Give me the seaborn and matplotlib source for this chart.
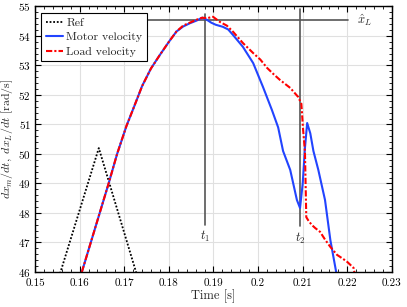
import numpy as np
import pandas as pd
import seaborn as sns
import matplotlib
matplotlib.use("Agg")
import matplotlib.pyplot as plt
from matplotlib.ticker import MultipleLocator

# reference (triangle)
ref_t = [0.150, 0.1643, 0.178]
ref_v = [43.2, 50.2, 43.3]

# motor velocity
motor_t = [0.1580, 0.1605, 0.1625, 0.1645, 0.1665, 0.1684, 0.1705, 0.1722, 0.1740, 0.1760,
           0.1780, 0.1800, 0.1817, 0.1832, 0.1847, 0.1862, 0.1875, 0.1885, 0.1895, 0.1905,
           0.1921, 0.1933, 0.1944, 0.1966, 0.1989, 0.2011, 0.2031, 0.2045, 0.2056, 0.2072,
           0.2087, 0.2094, 0.2100, 0.2105, 0.2110, 0.2117, 0.2124, 0.2135, 0.2150, 0.2162,
           0.2175, 0.2190]
motor_v = [44.7, 46.0, 47.0, 48.0, 49.0, 50.0, 50.95, 51.6, 52.3, 52.9,
           53.36, 53.8, 54.15, 54.32, 54.43, 54.52, 54.62, 54.55, 54.45, 54.38,
           54.31, 54.22, 54.03, 53.63, 53.08, 52.27, 51.49, 50.9, 50.1, 49.46,
           48.44, 48.17, 49.0, 50.2, 51.05, 50.7, 50.1, 49.46, 48.44, 47.08,
           46.0, 45.2]

# load velocity
load_t = [0.1580, 0.1605, 0.1625, 0.1645, 0.1665, 0.1684, 0.1705, 0.1722, 0.1740, 0.1760,
          0.1780, 0.1800, 0.1817, 0.1832, 0.1847, 0.1862, 0.1875, 0.1885, 0.1899, 0.1915,
          0.1930, 0.1944, 0.1966, 0.1989, 0.2005, 0.2020, 0.2035, 0.2049, 0.2072, 0.2090,
          0.2097, 0.2101, 0.2105, 0.2108, 0.2112, 0.2120, 0.2128, 0.2139, 0.2150, 0.2162,
          0.2177, 0.2190, 0.2200, 0.2214, 0.2217]
load_v = [44.7, 46.0, 47.0, 48.0, 49.0, 50.0, 50.95, 51.6, 52.3, 52.9,
          53.36, 53.8, 54.15, 54.35, 54.45, 54.55, 54.62, 54.6, 54.65, 54.47,
          54.35, 54.14, 53.76, 53.42, 53.2, 52.92, 52.7, 52.51, 52.24, 51.93,
          51.7, 50.8, 50.1, 47.86, 47.76, 47.6, 47.49, 47.36, 47.1, 46.85,
          46.58, 46.45, 46.34, 46.14, 45.9]

t1, t2 = 0.1881, 0.2094
xhat_L = 54.54

plt.rcParams["figure.dpi"] = 100
sns.set_theme(style="whitegrid")
plt.rcParams["font.family"] = "serif"
plt.rcParams["font.serif"] = ["cmr10", "DejaVu Serif"]
plt.rcParams["mathtext.fontset"] = "cm"
plt.rcParams["axes.formatter.use_mathtext"] = True

fig = plt.figure(figsize=(4.07, 3.07))
ax = fig.add_axes([0.086, 0.114, 0.877, 0.865])

sns.lineplot(x=ref_t, y=ref_v, ax=ax, color="black", linestyle=(0, (1, 1)), lw=1.3, label="Ref", sort=False)
sns.lineplot(x=motor_t, y=motor_v, ax=ax, color="#2244ff", lw=1.5, label="Motor velocity", sort=False)
sns.lineplot(x=load_t, y=load_v, ax=ax, color="#ff0000", linestyle=(0, (3, 1, 1, 1)), lw=1.5,
             label="Load velocity", sort=False)

# annotation lines
ax.plot([0.1751, 0.2202], [xhat_L, xhat_L], color="#555555", lw=1.2, zorder=1.5)
ax.plot([t1, t1], [54.75, 47.6], color="#555555", lw=1.2, zorder=1.5)
ax.plot([t2, t2], [54.9, 47.55], color="#555555", lw=1.2, zorder=1.5)
ax.text(0.2222, xhat_L, r"$\hat{x}_L$", fontsize=9, va="center", ha="left")
ax.text(t1, 47.45, r"$t_1$", fontsize=9, va="top", ha="center")
ax.text(t2, 47.4, r"$t_2$", fontsize=9, va="top", ha="center")

ax.set_xlim(0.15, 0.23)
ax.set_ylim(46, 55)
ax.xaxis.set_major_locator(MultipleLocator(0.01))
ax.xaxis.set_minor_locator(MultipleLocator(0.002))
ax.yaxis.set_major_locator(MultipleLocator(1))
ax.yaxis.set_minor_locator(MultipleLocator(0.2))
ax.set_xticks([0.15, 0.16, 0.17, 0.18, 0.19, 0.2, 0.21, 0.22, 0.23])
ax.set_xticklabels(["0.15", "0.16", "0.17", "0.18", "0.19", "0.2", "0.21", "0.22", "0.23"])
ax.tick_params(which="both", direction="in", top=True, right=True, bottom=True, left=True,
               colors="black", labelsize=8)
ax.tick_params(axis="x", pad=4.5)
ax.tick_params(axis="y", pad=3)
ax.tick_params(which="major", length=4, width=0.8)
ax.tick_params(which="minor", length=2, width=0.6)
ax.grid(True, which="major", color="#e0e0e0", lw=0.8)
ax.grid(False, which="minor")
ax.set_facecolor("white")
for s in ax.spines.values():
    s.set_color("black")
    s.set_linewidth(1.0)

ax.set_xlabel("Time [s]", fontsize=9)
ax.xaxis.set_label_coords(0.5, -0.066)
ax.set_ylabel(r"$dx_m/dt,\ dx_L/dt$ [rad/s]", fontsize=8.5)
ax.yaxis.set_label_coords(-0.056, 0.5)

leg = ax.legend(loc="upper left", fontsize=8.5, frameon=True, fancybox=False, edgecolor="black",
                framealpha=1, handlelength=1.4, handletextpad=0.3, borderpad=0.4,
                labelspacing=0.35, borderaxespad=0.55)
leg.get_frame().set_linewidth(0.8)

fig.savefig("out.png", dpi=100)
